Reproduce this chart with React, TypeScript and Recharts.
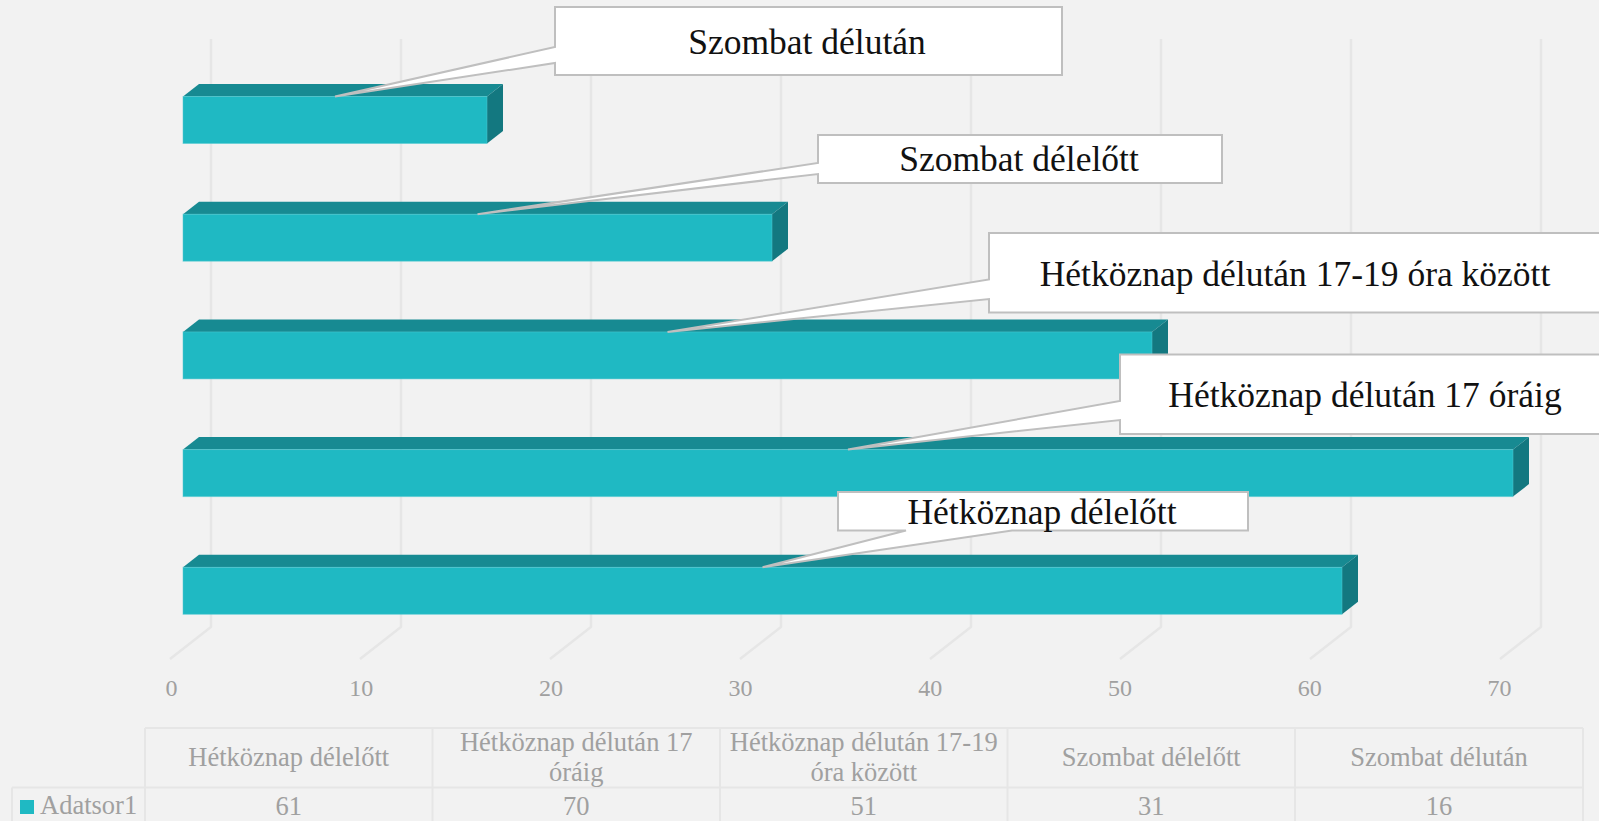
import * as React from "react";
import { BarChart, Bar, XAxis, YAxis, CartesianGrid, LabelList } from "recharts";

const categories = [
  "Hétköznap délelőtt",
  "Hétköznap délután 17 óráig",
  "Hétköznap délután 17-19 óra között",
  "Szombat délelőtt",
  "Szombat délután",
];
const values = [61, 70, 51, 31, 16];
const xTicks = [0, 10, 20, 30, 40, 50, 60, 70];
const seriesName = "Adatsor1";
const tableHeaderLines = [
  ["Hétköznap délelőtt"],
  ["Hétköznap délután 17", "óráig"],
  ["Hétköznap délután 17-19", "óra között"],
  ["Szombat délelőtt"],
  ["Szombat délután"],
];

// callout placement, in the same order as categories
const calloutBoxes = [
  { x: 838, y: 492, w: 410, h: 38.5, textX: 1042, textY: 511.5, side: "bottom", a: 906, b: 1012 },
  { x: 1120, y: 354.5, w: 490, h: 79.5, textX: 1365, textY: 394.5, side: "left", a: 401, b: 420 },
  { x: 989, y: 233, w: 620, h: 79.5, textX: 1295, textY: 273.5, side: "left", a: 279.5, b: 299 },
  { x: 818, y: 135, w: 404, h: 48, textX: 1019, textY: 158.5, side: "left", a: 163, b: 174 },
  { x: 555, y: 7, w: 507, h: 68, textX: 807, textY: 41.5, side: "left", a: 47, b: 63 },
];

const WIDTH = 1599;
const HEIGHT = 821;
const FONT = '"Liberation Serif", serif';
const TEAL = "#1fb9c3";
const TEAL_TOP = "#178a92";
const TEAL_SIDE = "#137880";
const GRID = "#e6e6e6";
const MUTED = "#a0a0a0";
const BOX_EDGE = "#bfbfbf";

const tableCols = [145, 432.5, 720, 1007.5, 1295, 1583];
const tableY = [728, 787.5, 830];

const data = categories.map((name, i) => ({ name, value: values[i] }));

function Bar3D(props: any) {
  const { x, y, width, height } = props;
  const dx = 16;
  const dy = 12.5;
  return (
    <g>
      <path d={`M${x},${y}L${x + dx},${y - dy}H${x + width + dx}L${x + width},${y}Z`} fill={TEAL_TOP} />
      <path
        d={`M${x + width},${y}L${x + width + dx},${y - dy}V${y + height - dy}L${x + width},${y + height}Z`}
        fill={TEAL_SIDE}
      />
      <rect x={x} y={y} width={width} height={height} fill={TEAL} stroke="#4fc9d1" strokeOpacity={0.5} strokeWidth={1} />
    </g>
  );
}

function GridLine(props: any) {
  const { x1 } = props;
  return (
    <path
      key={props.key}
      d={`M${x1 + 28},39V627L${x1 - 13},659`}
      fill="none"
      stroke={GRID}
      strokeWidth={2.5}
    />
  );
}

function XTick(props: any) {
  const { x, payload } = props;
  return (
    <text
      x={x - 11.5 - payload.value * 0.03}
      y={688}
      fontSize={24}
      fontFamily={FONT}
      fill={MUTED}
      textAnchor="middle"
      dominantBaseline="central"
    >
      {payload.value}
    </text>
  );
}

function Callout(props: any) {
  const { x, y, width, index } = props;
  const box = calloutBoxes[index];
  const tipX = x + width / 2;
  const tipY = y;
  const right = box.x + box.w;
  const bottom = box.y + box.h;
  const d =
    box.side === "left"
      ? `M${box.x},${box.y}H${right}V${bottom}H${box.x}V${box.b}L${tipX},${tipY}L${box.x},${box.a}Z`
      : `M${box.x},${box.y}H${right}V${bottom}H${box.b}L${tipX},${tipY}L${box.a},${bottom}H${box.x}Z`;
  return (
    <g>
      <path d={d} fill="#ffffff" stroke={BOX_EDGE} strokeWidth={2} />
      <text
        x={box.textX}
        y={box.textY}
        fontSize={35.5}
        fontFamily={FONT}
        fill="#111111"
        textAnchor="middle"
        dominantBaseline="central"
      >
        {categories[index]}
      </text>
    </g>
  );
}

function DataTable() {
  const [rowTop, rowMid, rowEnd] = tableY;
  return (
    <g fontFamily={FONT} fontSize={26.5} fill={MUTED} textAnchor="middle">
      <path
        d={`M${tableCols[0]},${rowTop}H${tableCols[5]}M12,${rowMid}H${tableCols[5]}M12,${rowMid}V${rowEnd}`}
        fill="none"
        stroke={GRID}
        strokeWidth={2}
      />
      {tableCols.map((c) => (
        <path key={c} d={`M${c},${rowTop}V${rowEnd}`} fill="none" stroke={GRID} strokeWidth={2} />
      ))}
      {tableHeaderLines.map((lines, i) => {
        const cx = (tableCols[i] + tableCols[i + 1]) / 2;
        const first = lines.length === 1 ? 756.5 : 742;
        return lines.map((line, j) => (
          <text key={line} x={cx} y={first + j * 30} dominantBaseline="central">
            {line}
          </text>
        ));
      })}
      {values.map((v, i) => (
        <text key={categories[i]} x={(tableCols[i] + tableCols[i + 1]) / 2} y={806} dominantBaseline="central">
          {v}
        </text>
      ))}
      <rect x={20} y={800} width={14} height={14} fill={TEAL} />
      <text x={40} y={805} textAnchor="start" dominantBaseline="central">
        {seriesName}
      </text>
    </g>
  );
}

export default function App() {
  return (
    <div style={{ position: "absolute", left: 0, top: 0, width: WIDTH, height: HEIGHT, overflow: "hidden", background: "#f2f2f2" }}>
      <BarChart
        width={WIDTH}
        height={HEIGHT}
        data={data}
        layout="vertical"
        margin={{ top: 61.5, right: 86, bottom: 141, left: 183 }}
        style={{ overflow: "visible" }}
      >
        <CartesianGrid horizontal={false} vertical={GridLine as any} />
        <XAxis
          type="number"
          dataKey="value"
          domain={[0, 70]}
          ticks={xTicks}
          axisLine={false}
          tickLine={false}
          height={30}
          tick={XTick as any}
          interval={0}
        />
        <YAxis type="category" dataKey="name" reversed hide />
        <Bar dataKey="value" barSize={47} shape={Bar3D as any} isAnimationActive={false}>
          <LabelList dataKey="value" content={Callout as any} />
        </Bar>
        <DataTable />
      </BarChart>
    </div>
  );
}
